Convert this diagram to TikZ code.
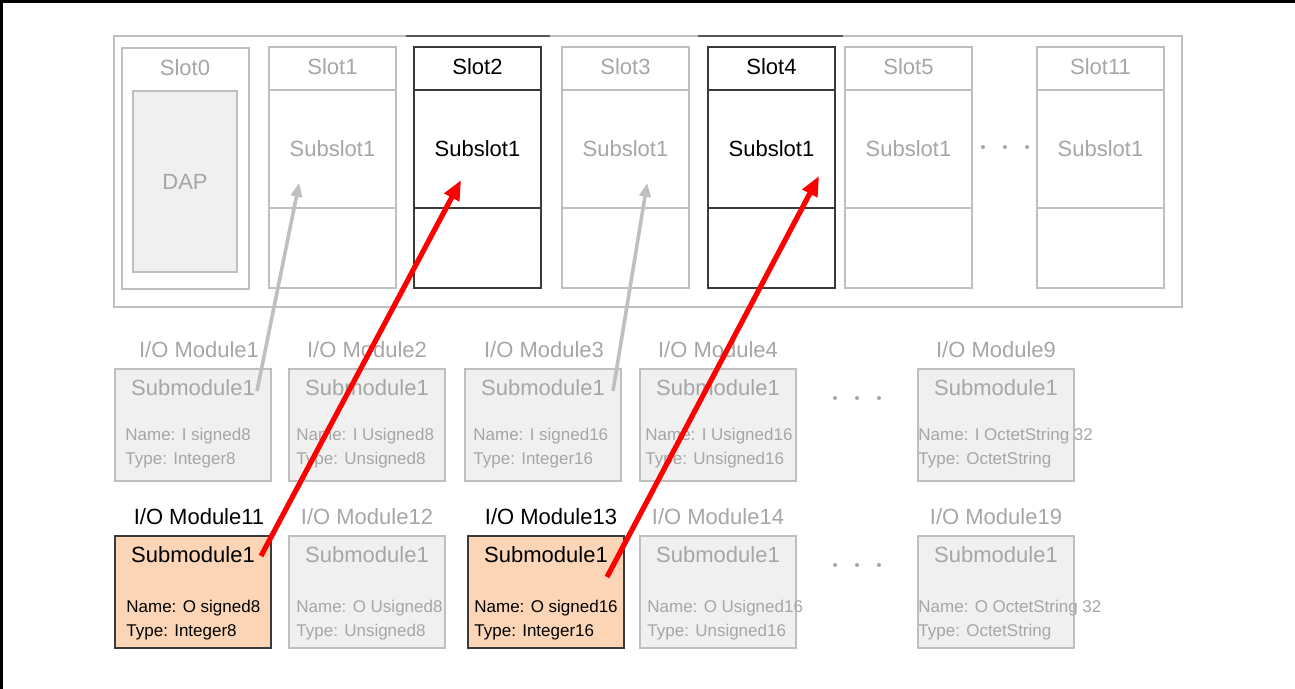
\documentclass[tikz,border=0pt]{standalone}
\usepackage{fontspec}
\setmainfont{Liberation Sans}
\usetikzlibrary{arrows.meta,positioning}
\definecolor{lgray}{HTML}{BFBFBF}
\definecolor{tgray}{HTML}{A6A6A6}
\definecolor{boxfill}{HTML}{F0F0F0}
\definecolor{orangefill}{HTML}{FBD5B5}
\definecolor{darkline}{HTML}{3A3A3A}
\tikzset{
  slotoff/.style={draw=lgray, line width=0.75pt},
  sloton/.style={draw=darkline, line width=0.9pt},
  textoff/.style={text=tgray},
  texton/.style={text=black},
  modoff/.style={draw=lgray, fill=boxfill, line width=1pt, minimum width=78pt, minimum height=56pt},
  modon/.style={draw=darkline, fill=orangefill, line width=1pt, minimum width=78pt, minimum height=56pt},
  bigtext/.style={font=\fontsize{11}{13}\selectfont},
  titletext/.style={font=\fontsize{11}{13}\selectfont},
  smalltext/.style={font=\fontsize{8.5}{12}\selectfont, anchor=west, align=left, inner sep=0pt},
  hotarrow/.style={red, line width=2.6pt, -{Triangle[length=10pt,width=8pt]}},
  coldarrow/.style={lgray, line width=1.8pt, -{Triangle[length=7pt,width=5.5pt]}}
}
\begin{document}
\begin{tikzpicture}[x=0.5pt, y=-0.5pt]
    \useasboundingbox (0,0) rectangle (1295,689);
    \draw[line width=1.5pt] (0,1.5) -- (1295,1.5);
    \draw[line width=1.5pt] (1.5,0) -- (1.5,689);
    % the rack
    \draw[draw=lgray, line width=1pt] (114,36) rectangle (1182,307);
    \draw[draw=darkline!85, line width=1pt] (406,36) -- (550,36);
    \draw[draw=darkline!85, line width=1pt] (698,36) -- (843,36);
    \draw[slotoff] (122,48) rectangle ++(127,241);
    \node[slotoff, textoff, bigtext, fill=boxfill, minimum width=52pt, minimum height=90.5pt] (dap) at (185,181.5) {DAP};
    \node[textoff, bigtext] (slot0) at (185,68) {Slot0};
    \foreach \x/\n/\s in {269/1/off,414/2/on,562/3/off,708/4/on,845/5/off,1037/11/off}{
        \draw[slot\s] (\x,47) rectangle ++(127,241);
        \node[slot\s, text\s, bigtext, minimum width=63.5pt, minimum height=59pt] (sub\n) at (\x+63.5,149) {Subslot1};
        \node[text\s, bigtext] (slot\n) at (\x+63.5,67) {Slot\n};
    }
    \foreach \x in {983,1005,1027} \fill[tgray] (\x,147) circle (1pt);
    % input modules
    \foreach \x/\n/\nm/\ty/\i/\d in {115/1/I signed8/Integer8/10/6, 289/2/I Usigned8/Unsigned8/7/0, 465/3/I signed16/Integer16/8/1, 640/4/I Usigned16/Unsigned16/5/0, 918/9/I OctetString 32/OctetString/0/0}{
        \node[modoff] (m\n) at (\x+78,425) {};
        \node[textoff, titletext] (t\n) at (\x+78+\d,350) {I/O Module\n};
        \node[textoff, bigtext] (sm\n) at (\x+78,388) {Submodule1};
        \node[textoff, smalltext] (d\n) at (\x+\i,448) {Name: \nm\\Type: \ty};
    }
    % output modules
    \foreach \x/\n/\nm/\ty/\i/\s/\d in {115/11/O signed8/Integer8/11/on/6, 289/12/O Usigned8/Unsigned8/7/off/0, 468/13/O signed16/Integer16/6/on/5, 640/14/O Usigned16/Unsigned16/7/off/0, 918/19/O OctetString 32/OctetString/0/off/0}{
        \node[mod\s] (m\n) at (\x+78,592) {};
        \node[text\s, titletext] (t\n) at (\x+78+\d,517) {I/O Module\n};
        \node[text\s, bigtext] (sm\n) at (\x+78,555) {Submodule1};
        \node[text\s, smalltext] (d\n) at (\x+\i,620.5) {Name: \nm\\Type: \ty};
    }
    \foreach \y in {398,565} \foreach \x in {835,857,879} \fill[tgray] (\x,\y) circle (1pt);
    % mapping
    \draw[coldarrow] ([shift={(-15,23)}]m1.north east) -- ([shift={(31,-26)}]sub1.south west);
    \draw[coldarrow] ([shift={(-9,23)}]m3.north east) -- ([shift={(86,-26)}]sub3.south west);
    \draw[hotarrow] ([shift={(-11,21)}]m11.north east) -- ([shift={(48,-29)}]sub2.south west);
    \draw[hotarrow] ([shift={(-18,42)}]m13.north east) -- ([shift={(112,-33)}]sub4.south west);
\end{tikzpicture}
\end{document}
